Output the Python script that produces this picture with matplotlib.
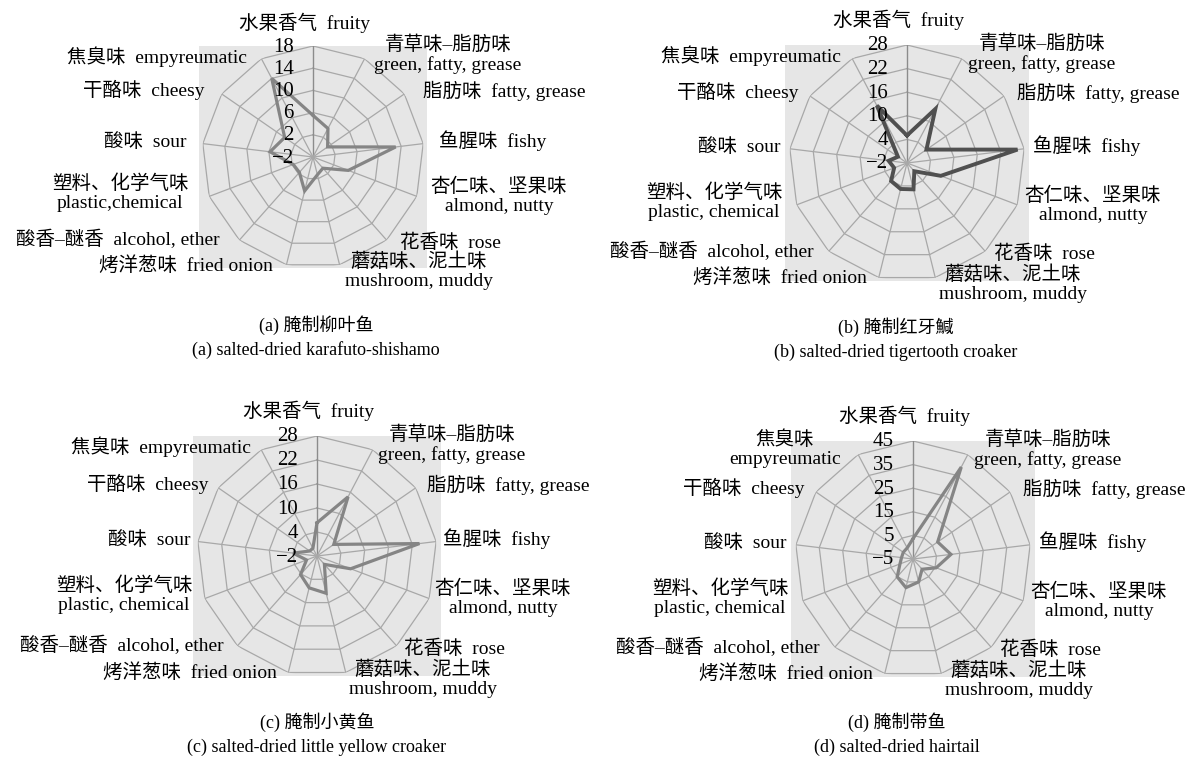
import numpy as np
import matplotlib
matplotlib.use('Agg')
import matplotlib.pyplot as plt
from matplotlib.patches import Rectangle

plt.rcParams['font.family'] = ['Liberation Serif', 'Noto Sans CJK SC', 'Noto Sans CJK TC']

W, H = 1203, 769

# odour attributes, clockwise starting from the top spoke
attributes = ['水果香气  fruity', '青草味–脂肪味\ngreen, fatty, grease', '脂肪味  fatty, grease',
              '鱼腥味  fishy', '杏仁味、坚果味\nalmond, nutty', '花香味  rose',
              '蘑菇味、泥土味\nmushroom, muddy', '烤洋葱味  fried onion', '酸香–醚香  alcohol, ether',
              '塑料、化学气味\nplastic, chemical', '酸味  sour', '干酪味  cheesy', '焦臭味  empyreumatic']

# sensory scores per fish
shishamo = [5.5, 3.8, 1.2, 13.0, 4.8, 0.7, 1.3, 4.3, 1.7, 1.8, 5.8, 4.2, 14.0]
tigertooth = [5.0, 13.5, 4.0, 26.3, 7.2, 0.8, 4.9, 4.8, 4.1, 1.5, 2.7, 0.8, 14.5]
yellow_croaker = [6.3, 14.7, 3.1, 23.8, 7.0, 0.8, 7.6, 6.2, 4.2, 0.8, 4.0, 0.2, 0.2]
hairtail = [3.6, 39.0, 7.7, 11.2, 5.5, 0.8, 5.0, 7.5, 5.1, 0.9, -0.1, 0.0, 0.3]

# radial scale, first value sits at the centre
ticks_a = [-2, 2, 6, 10, 14, 18]
ticks_bc = [-2, 4, 10, 16, 22, 28]
ticks_d = [-5, 5, 15, 25, 35, 45]

captions = [('(a) 腌制柳叶鱼', '(a) salted-dried karafuto-shishamo'),
            ('(b) 腌制红牙鰔', '(b) salted-dried tigertooth croaker'),
            ('(c) 腌制小黄鱼', '(c) salted-dried little yellow croaker'),
            ('(d) 腌制带鱼', '(d) salted-dried hairtail')]

# label offsets from the radar centre in pixels (x right, y down), y given for a radius of 118
label_offsets = [(-8, -143), (135, -109), (191, -70), (180, -17), (186, 42), (137, 91),
                 (106, 121), (-127, 115), (-195, 88), (-193, 39), (-168, -16), (-169, -71),
                 (-156, -107)]

panels = [
    dict(c=(313, 157), R=111, vals=shishamo, ticks=ticks_a, color='#858585', lw=2.3, cap=(316, 325)),
    dict(c=(907, 163), R=118, vals=tigertooth, ticks=ticks_bc, color='#505050', lw=2.8, cap=(896, 327)),
    dict(c=(317, 556), R=120, vals=yellow_croaker, ticks=ticks_bc, color='#858585', lw=2.3, cap=(317, 722)),
    dict(c=(913, 559), R=118, vals=hairtail, ticks=ticks_d, color='#858585', lw=2.3, cap=(897, 722)),
]

fig = plt.figure(figsize=(W / 100, H / 100), dpi=100)
fig.patch.set_facecolor('white')

n = len(attributes)
theta = np.arange(n) * 2 * np.pi / n
theta_c = np.append(theta, theta[0])

for i, p in enumerate(panels):
    cx, cy = p['c']
    R = p['R']
    ticks = p['ticks']

    # grey plot area behind the web
    fig.add_artist(Rectangle(((cx - 1.03 * R) / W, 1 - (cy + R) / H), 2.06 * R / W, 2 * R / H,
                             transform=fig.transFigure, facecolor='#e6e6e6',
                             edgecolor='none', zorder=-5))

    ax = fig.add_axes([(cx - R) / W, 1 - (cy + R) / H, 2 * R / W, 2 * R / H], projection='polar')
    ax.set_facecolor('none')
    ax.set_theta_zero_location('N')
    ax.set_theta_direction(-1)
    ax.set_ylim(ticks[0], ticks[-1])
    ax.set_xticks([])
    ax.set_yticks([])
    ax.grid(False)
    ax.spines['polar'].set_visible(False)

    # polygon web
    for v in ticks[1:]:
        ax.plot(theta_c, [v] * (n + 1), color='#a8a8a8', lw=0.9, zorder=1)
    for k, t in enumerate(theta):
        ax.plot([t, t], [ticks[0], ticks[-1]], color='#8c8c8c' if k == 0 else '#a8a8a8',
                lw=1.0 if k == 0 else 0.9, zorder=1)

    vals = np.append(p['vals'], p['vals'][0])
    ax.plot(theta_c, vals, color=p['color'], lw=p['lw'], solid_joinstyle='miter', zorder=3)

    for v in ticks:
        ax.annotate(str(v).replace('-', '\u2212'), xy=(0, v), xytext=(-19, -1),
                    textcoords='offset pixels', ha='right', va='center', fontsize=15,
                    annotation_clip=False, zorder=4)

    # attribute names around the web
    names = list(attributes)
    offsets = list(label_offsets)
    if i == 0:
        names[9] = '塑料、化学气味\nplastic,chemical'
    if i == 3:
        names[12] = '焦臭味\nempyreumatic'
        offsets[12] = (-128, -110)
    for name, (dx, dy) in zip(names, offsets):
        fig.text((cx + dx) / W, 1 - (cy + dy * R / 118) / H, name, ha='center', va='center',
                 fontsize=14, linespacing=1.15, multialignment='center')

    capx, capy = p['cap']
    fig.text(capx / W, 1 - capy / H, captions[i][0], ha='center', va='center', fontsize=13)
    fig.text(capx / W, 1 - (capy + 25) / H, captions[i][1], ha='center', va='center', fontsize=13)

fig.savefig('out.png', dpi=100)
